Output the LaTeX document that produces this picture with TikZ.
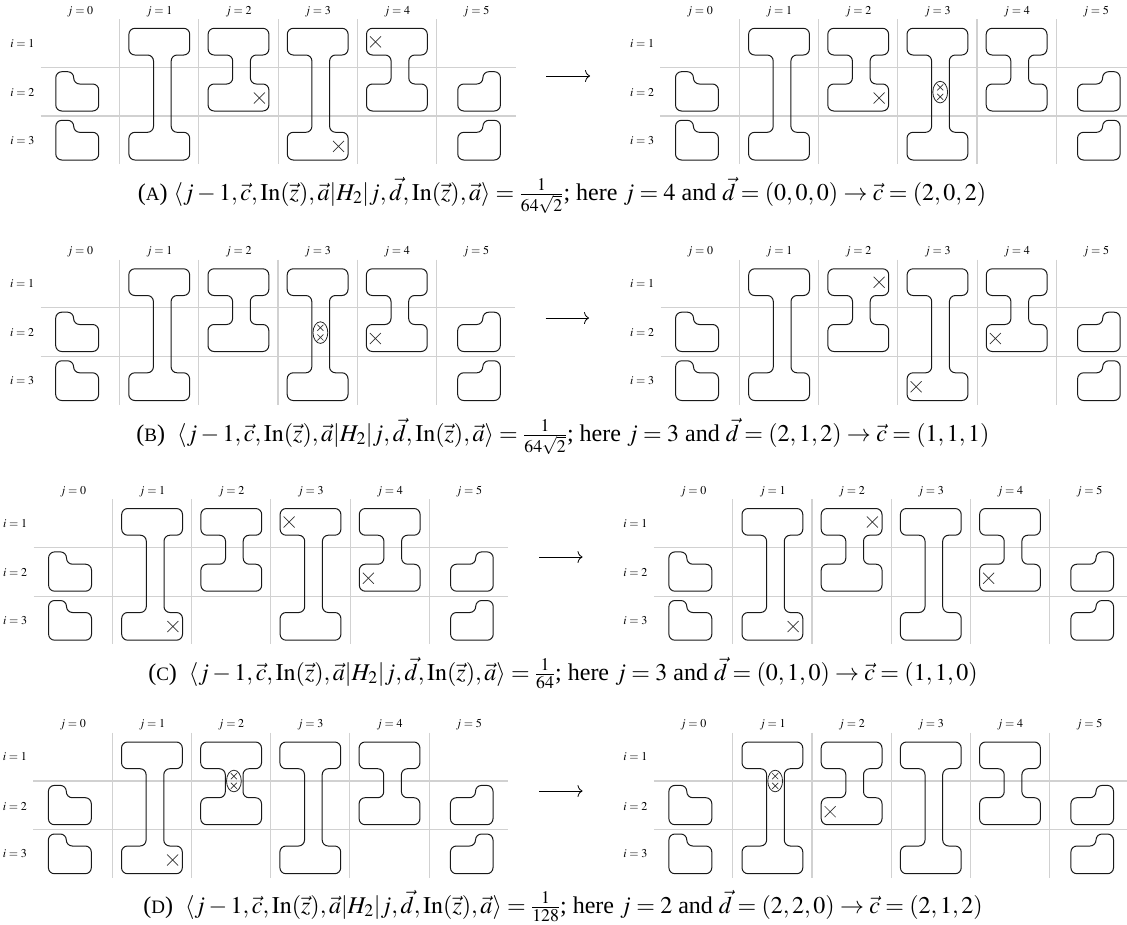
\documentclass[tikz,border=0pt]{standalone}
\usepackage{mathptmx}
\usepackage[no-math]{fontspec}
\setmainfont{Liberation Serif}
\usetikzlibrary{arrows.meta}
\tikzset{
  gridline/.style={draw=black!18,line width=1.1pt},
  shapeline/.style={draw=black!90,line width=1pt,rounded corners=6pt},
  crossline/.style={draw=black!80,line width=0.7pt},
  ringline/.style={draw=black!85,line width=0.8pt},
  lab/.style={inner sep=0pt,font=\fontsize{12}{14}\selectfont},
  captext/.style={inner sep=0pt,anchor=base,font=\fontsize{24}{28}\selectfont},
  flow/.style={draw=black,line width=0.8pt,-{To[length=5pt,width=12pt]}}
}
\newcommand{\Wd}{79.2}
\newcommand{\longI}[1]{\draw[shapeline,shift={({(#1-1)*\Wd},0)}] (40,-39)--(70,-39)--(70,-12.3)--(51.5,-12.3)--(51.5,65)--(70,65)--(70,92.7)--(9.2,92.7)--(9.2,65)--(33.8,65)--(33.8,-12.3)--(9.2,-12.3)--(9.2,-39)--cycle;}
\newcommand{\shortI}[1]{\draw[shapeline,shift={({(#1-1)*\Wd},0)}] (40,-39)--(70,-39)--(70,-12.3)--(51.5,-12.3)--(51.5,16.7)--(70,16.7)--(70,43.7)--(9.2,43.7)--(9.2,16.7)--(33.8,16.7)--(33.8,-12.3)--(9.2,-12.3)--(9.2,-39)--cycle;}
\newcommand{\leftL}[3]{\draw[shapeline] (-63.9,#1)--(-46,#1)--(-46,#2)--(-21,#2)--(-21,#3)--(-63.9,#3)--cycle;}
\newcommand{\rightL}[3]{\draw[shapeline,shift={({4*\Wd},0)}] (63.9,#1)--(63.9,#3)--(21.3,#3)--(21.3,#2)--(46.4,#2)--(46.4,#1)--cycle;}
\newcommand{\crossmark}[4][5.5]{\draw[crossline,shift={({(#2-1)*\Wd+#3},#4)}] (-#1,-#1)--(#1,#1) (-#1,#1)--(#1,-#1);}
\newcommand{\ringmark}[2]{\draw[ringline,shift={({(#1-1)*\Wd+42.4},#2)}] (0,0) ellipse[x radius=7.4pt,y radius=10.8pt];
  \crossmark[3]{#1}{42.4}{#2-4.8}\crossmark[3]{#1}{42.4}{#2+4.8}}
\newcommand{\panel}[3]{%
 \begin{scope}[shift={(#1,#2)},name prefix=#3-]
  \foreach \kk in {0,1,2,3,4}{\draw[gridline] ({\kk*\Wd},-48.3)--({\kk*\Wd},96.7);}
  \foreach \rw in {0,48.7}{\draw[gridline] (-79,\rw)--({4*\Wd+79},\rw);}
  \foreach \kk in {0,...,5}{\node[lab] (j\kk) at ({(\kk-1)*\Wd+39.7},-56) {$j=\kk$};}
  \node[lab] (i1) at (-97.4,-24) {$i=1$};
  \node[lab] (i2) at (-97.4,25.2) {$i=2$};
  \node[lab] (i3) at (-97.4,73) {$i=3$};
  \leftL{4.4}{16.7}{43.7}\leftL{53}{65}{92.7}
  \rightL{4.4}{16.7}{43.7}\rightL{53}{65}{92.7}
  \longI{1}\shortI{2}\longI{3}\shortI{4}
 \end{scope}}
\newcommand{\markset}[3]{\begin{scope}[shift={(#1,#2)}]#3\end{scope}}
\newcommand{\lineh}{\mathopen{\langle}j-1,\vec{c},\mathrm{In}(\vec{z}),\vec{a}|H_2|j,\vec{d},\mathrm{In}(\vec{z}),\vec{a}\mathclose{\rangle}}
\newcommand{\smcap}[1]{{\fontsize{19}{22}\selectfont #1}}
\begin{document}
\begin{tikzpicture}[x=1pt,y=-1pt]
\useasboundingbox (0,0) rectangle (1127,924);
% A
\panel{119.7}{67.3}{AL}\panel{739.4}{67.3}{AR}
\markset{119.7}{67.3}{\crossmark{4}{18.2}{-25.5}\crossmark{2}{60.4}{30.7}\crossmark{3}{60.4}{79}}
\markset{739.4}{67.3}{\crossmark{2}{60.4}{30.7}\ringmark{3}{24.8}}
\coordinate (a1) at (546,76);\coordinate (a2) at (590,76);\draw[flow] (a1)--(a2);
\node[captext] (capA) at (562,200) {(\smcap{A}) $\lineh=\frac{1}{64\sqrt{2}}$; here $j=4$ and $\vec{d}=(0,0,0)\rightarrow\vec{c}=(2,0,2)$};
% B
\panel{119.6}{307.8}{BL}\panel{739.5}{307.8}{BR}
\markset{119.6}{307.8}{\ringmark{3}{24.8}\crossmark{4}{18.2}{30.7}}
\markset{739.5}{307.8}{\crossmark{2}{60.4}{-25.5}\crossmark{4}{18.2}{30.7}\crossmark{3}{18.2}{79}}
\coordinate (b1) at (545.5,318);\coordinate (b2) at (589,318);\draw[flow] (b1)--(b2);
\node[captext] (capB) at (563,441) {(\smcap{B})\enspace$\lineh=\frac{1}{64\sqrt{2}}$; here $j=3$ and $\vec{d}=(2,1,2)\rightarrow\vec{c}=(1,1,1)$};
% C
\panel{112.5}{547.5}{CL}\panel{732.8}{547.5}{CR}
\markset{112.5}{547.5}{\crossmark{3}{18.2}{-25.5}\crossmark{4}{18.2}{30.7}\crossmark{1}{60.4}{79}}
\markset{732.8}{547.5}{\crossmark{2}{60.4}{-25.5}\crossmark{4}{18.2}{30.7}\crossmark{1}{60.4}{79}}
\coordinate (c1) at (539,557);\coordinate (c2) at (582.5,557);\draw[flow] (c1)--(c2);
\node[captext] (capC) at (563,680) {(\smcap{C})\enspace$\lineh=\frac{1}{64}$; here $j=3$ and $\vec{d}=(0,1,0)\rightarrow\vec{c}=(1,1,0)$};
% D
\panel{112.3}{781}{DL}\panel{732.8}{781}{DR}
\markset{112.3}{781}{\ringmark{2}{0}\crossmark{1}{60.4}{79}}
\markset{732.8}{781}{\ringmark{1}{0}\crossmark{2}{18.2}{30.7}}
\coordinate (d1) at (539,791);\coordinate (d2) at (582.5,791);\draw[flow] (d1)--(d2);
\node[captext] (capD) at (563,913) {(\smcap{D})\enspace$\lineh=\frac{1}{128}$; here $j=2$ and $\vec{d}=(2,2,0)\rightarrow\vec{c}=(2,1,2)$};
\end{tikzpicture}
\end{document}
